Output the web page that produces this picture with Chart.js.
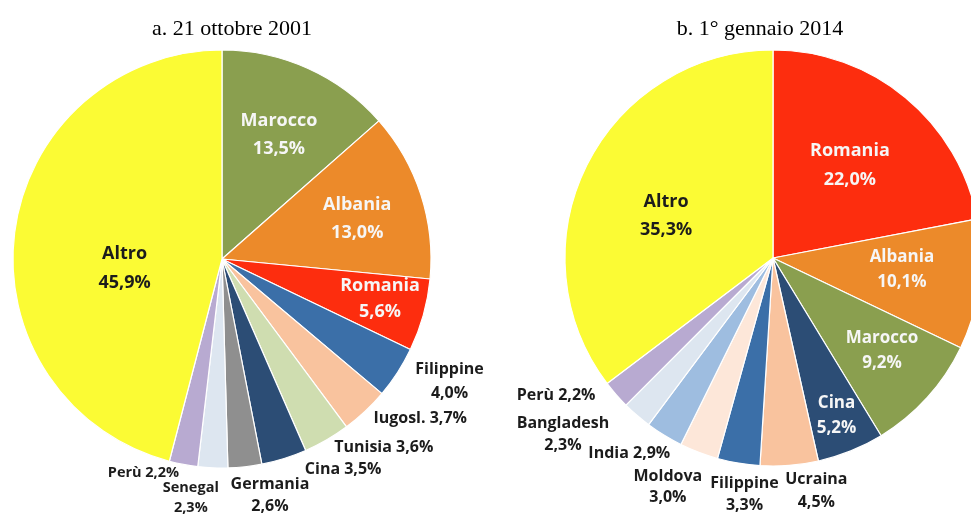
<!DOCTYPE html>
<html>
<head>
<meta charset="utf-8">
<script src="https://cdn.jsdelivr.net/npm/chart.js@4/dist/chart.umd.min.js"></script>
<style>
  html, body { margin: 0; padding: 0; background: #ffffff; }
  body { width: 971px; height: 514px; position: relative; overflow: hidden; }
  canvas { position: absolute; top: 0; }
  #c1 { left: 0; }
  #c2 { left: 486px; }
</style>
</head>
<body>
<canvas id="c1" width="486" height="514"></canvas>
<canvas id="c2" width="485" height="514"></canvas>
<script>
// ---- Data ----
const titleLeft = 'a. 21 ottobre 2001';
const titleRight = 'b. 1° gennaio 2014';

const leftCategories = ['Marocco', 'Albania', 'Romania', 'Filippine', 'Iugosl.', 'Tunisia', 'Cina', 'Germania', 'Senegal', 'Perù', 'Altro'];
const leftValues = [13.5, 13.0, 5.6, 4.0, 3.7, 3.6, 3.5, 2.6, 2.3, 2.2, 45.9];

const rightCategories = ['Romania', 'Albania', 'Marocco', 'Cina', 'Ucraina', 'Filippine', 'Moldova', 'India', 'Bangladesh', 'Perù', 'Altro'];
const rightValues = [22.0, 10.1, 9.2, 5.2, 4.5, 3.3, 3.0, 2.9, 2.3, 2.2, 35.3];

// ---- Styles ----
const COL = {
  altro: '#fbfb34', marocco: '#8a9f4f', albania: '#ec8a2a', romania: '#fd2d0e',
  filippine: '#3b6fa8', peach: '#f9c39e', tunisia: '#cfddb0', cina: '#2c4d75',
  germania: '#8f8f8f', palest: '#dde6f0', peru: '#b8aad1', moldova: '#fde7d9', india: '#9ebde0'
};
const leftColors = [COL.marocco, COL.albania, COL.romania, COL.filippine, COL.peach, COL.tunisia, COL.cina, COL.germania, COL.palest, COL.peru, COL.altro];
const rightColors = [COL.romania, COL.albania, COL.marocco, COL.cina, COL.peach, COL.filippine, COL.moldova, COL.india, COL.palest, COL.peru, COL.altro];

const WHITE = '#f6f6f6', DARK = '#1c1c1c';
// label placement: f = fraction of radius along slice mid-angle, dx/dy = offsets, two = name and value on two lines
const leftLabelLayout = [
  { f: 0.65, dx: 1, dy: 0, two: true, size: 18, lh: 28, color: WHITE },
  { f: 0.67, dx: 2, dy: 3, two: true, size: 18, lh: 28, color: WHITE },
  { f: 0.78, dx: 1, dy: -4, two: true, size: 18, lh: 26, color: WHITE },
  { f: 1, dx: 52, dy: 9, two: true, size: 16, lh: 24, color: DARK },
  { f: 1, dx: 55, dy: 7, two: false, size: 16, lh: 22, color: DARK },
  { f: 1, dx: 57, dy: 8, two: false, size: 16, lh: 22, color: DARK },
  { f: 1, dx: 59, dy: 11, two: false, size: 16, lh: 22, color: DARK },
  { f: 1, dx: 25, dy: 29, two: true, size: 16, lh: 22, color: DARK },
  { f: 1, dx: -22, dy: 30, two: true, size: 14.5, lh: 20, color: DARK },
  { f: 1, dx: -40, dy: 8, two: false, size: 14.5, lh: 20, color: DARK },
  { f: 0.47, dx: 0, dy: 22, two: true, size: 18, lh: 29, color: DARK }
];
const rightLabelLayout = [
  { f: 0.58, dx: 0, dy: 0, two: true, size: 18, lh: 29, color: WHITE },
  { f: 0.625, dx: 0, dy: -5, two: true, size: 17, lh: 25, color: WHITE },
  { f: 0.687, dx: 3, dy: -3, two: true, size: 17, lh: 25, color: WHITE },
  { f: 0.817, dx: 0, dy: 0, two: true, size: 17, lh: 25, color: WHITE },
  { f: 1, dx: 27, dy: 26, two: true, size: 16, lh: 23, color: DARK },
  { f: 1, dx: 6, dy: 31, two: true, size: 16, lh: 22, color: DARK },
  { f: 1, dx: -31, dy: 35, two: true, size: 16, lh: 21, color: DARK },
  { f: 1, dx: -35, dy: 18, two: false, size: 16, lh: 22, color: DARK },
  { f: 1, dx: -74, dy: 19, two: true, size: 16, lh: 22, color: DARK },
  { f: 1, dx: -60, dy: 1, two: false, size: 16, lh: 22, color: DARK },
  { f: 0.553, dx: -4, dy: 9, two: true, size: 18, lh: 28, color: DARK }
];

function fmtPct(v) { return v.toFixed(1).replace('.', ',') + '%'; }

const sliceLabels = {
  id: 'sliceLabels',
  afterDatasetsDraw(chart, args, opts) {
    const ctx = chart.ctx;
    const meta = chart.getDatasetMeta(0);
    const labels = chart.data.labels;
    const values = chart.data.datasets[0].data;
    ctx.save();
    ctx.textAlign = 'center';
    ctx.textBaseline = 'middle';
    meta.data.forEach((arc, i) => {
      const L = opts.layout[i];
      const p = arc.getProps(['x', 'y', 'startAngle', 'endAngle', 'outerRadius'], true);
      const mid = (p.startAngle + p.endAngle) / 2;
      const cx = p.x + Math.cos(mid) * p.outerRadius * L.f + L.dx;
      const cy = p.y + Math.sin(mid) * p.outerRadius * L.f + L.dy;
      ctx.font = '700 ' + L.size + 'px "Open Sans"';
      ctx.fillStyle = L.color;
      const pct = fmtPct(values[i]);
      if (L.two) {
        ctx.fillText(labels[i], cx, cy - L.lh / 2);
        ctx.fillText(pct, cx, cy + L.lh / 2);
      } else {
        ctx.fillText(labels[i] + ' ' + pct, cx, cy);
      }
    });
    // title
    ctx.font = '22px "Liberation Serif"';
    ctx.fillStyle = '#000000';
    ctx.textBaseline = 'alphabetic';
    ctx.fillText(opts.title, opts.titleX, 35);
    ctx.restore();
  }
};

function makePie(id, cats, vals, colors, layout, radius, padding, title, titleX) {
  return new Chart(document.getElementById(id), {
    type: 'pie',
    data: {
      labels: cats,
      datasets: [{
        data: vals,
        backgroundColor: colors,
        borderColor: '#ffffff',
        borderWidth: 1.2,
        radius: radius,
        clip: false
      }]
    },
    options: {
      responsive: false,
      animation: false,
      devicePixelRatio: 1,
      layout: { padding: padding },
      events: [],
      plugins: {
        legend: { display: false },
        tooltip: { enabled: false },
        title: { display: false },
        sliceLabels: { layout: layout, title: title, titleX: titleX }
      }
    },
    plugins: [sliceLabels]
  });
}

makePie('c1', leftCategories, leftValues, leftColors, leftLabelLayout, 209,
  { left: 72, right: 114, top: 109, bottom: 105 }, titleLeft, 232);
makePie('c2', rightCategories, rightValues, rightColors, rightLabelLayout, 208,
  { left: 137, right: 48, top: 108, bottom: 106 }, titleRight, 274);
</script>
</body>
</html>
